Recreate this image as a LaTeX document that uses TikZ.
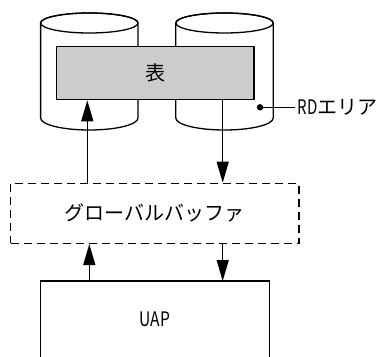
\documentclass[tikz,border=0pt]{standalone}
\usepackage{fontspec}
\newfontfamily\jp{Noto Sans CJK JP}
\usetikzlibrary{arrows.meta}
\begin{document}
\begin{tikzpicture}[x=1pt,y=-1pt,line width=1.3pt,
  lbl/.style={font=\jp\fontsize{20}{24}\selectfont, inner sep=0pt},
  arr/.style={-{Triangle[length=21pt,width=12pt]}},
  cyl/.style={draw, fill=white}]
\useasboundingbox (0,0) rectangle (385,356);
% cylinders
\foreach \cx in {89.3,224.5}{
  \path[cyl] (\cx-48.7,23) -- (\cx-48.7,118) arc[start angle=180,end angle=0,x radius=48.7,y radius=12] -- (\cx+48.7,23) arc[start angle=0,end angle=-180,x radius=48.7,y radius=10];
  \draw (\cx,23) ellipse[x radius=48.7,y radius=10];
}
% table
\node[draw, fill=black!20, minimum width=197.3pt, minimum height=53pt, anchor=north west, lbl] (tbl) at (56,46) {表};
% RD area
\fill (260,107.3) circle[radius=3.2pt] coordinate (dot);
\coordinate (rdend) at (295,107.3);
\draw (dot) -- (rdend);
\node[lbl, anchor=west] (rd) at (297,107.3) {\scalebox{0.75}[1]{RD}エリア};
% buffer
\node[draw, dash pattern=on 8pt off 5pt, minimum width=288.3pt, minimum height=60pt, anchor=north west, lbl] (buf) at (10,182.7) {グローバルバッファ};
% UAP
\node[minimum width=227.6pt, minimum height=75pt, anchor=north west, lbl] (uap) at (40.7,281) {\scalebox{0.78}[1]{UAP}};
\draw (uap.south west) -- (uap.north west) -- (uap.north east) -- (uap.south east);
% arrows
\draw[arr] (buf.north -| 87.3,0) -- (tbl.south -| 87.3,0);
\draw[arr] (tbl.south -| 222.7,0) -- (buf.north -| 222.7,0);
\draw[arr] (uap.north -| 89.3,0) -- (buf.south -| 89.3,0);
\draw[arr] (buf.south -| 222.7,0) -- (uap.north -| 222.7,0);
\end{tikzpicture}
\end{document}
